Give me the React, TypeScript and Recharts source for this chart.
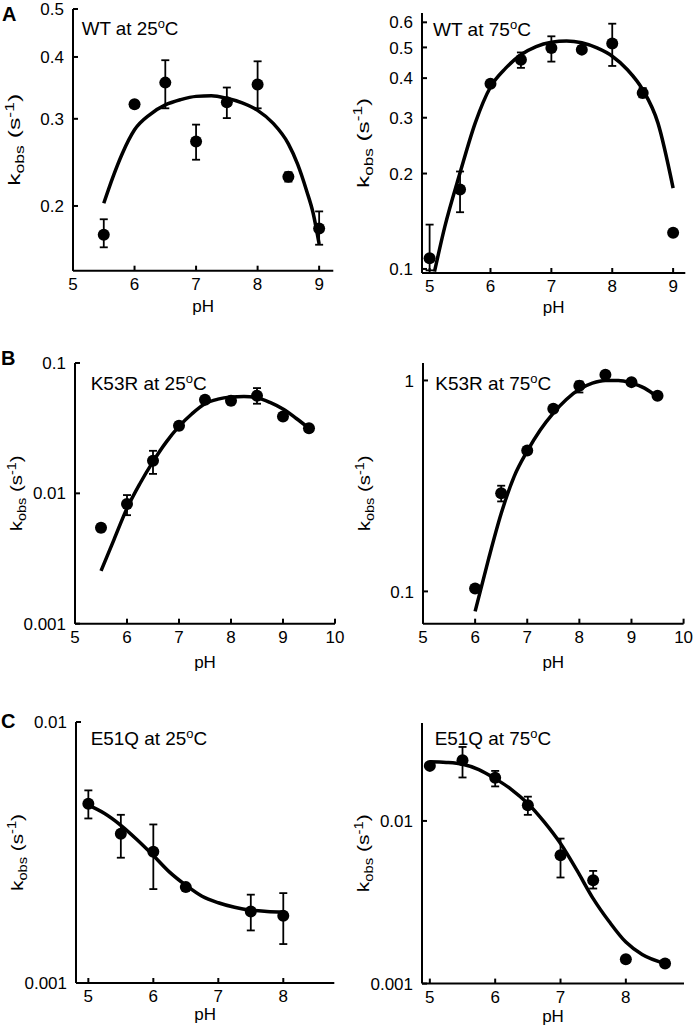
import { ComposedChart, Scatter, Line, XAxis, YAxis, ErrorBar } from "recharts"

const FONT = '"Liberation Sans", Arial, Helvetica, sans-serif'

// ---- A: wild type, 25 °C
const wt25Ph = [5.5, 6, 6.5, 7, 7.5, 8, 8.5, 9]
const wt25K = [0.175, 0.321, 0.355, 0.27, 0.324, 0.352, 0.229, 0.18]
const wt25Lo = [0.165, 0.321, 0.315, 0.248, 0.301, 0.315, 0.224, 0.167]
const wt25Hi = [0.188, 0.321, 0.394, 0.292, 0.347, 0.392, 0.234, 0.195]
const wt25FitPh = [5.5, 5.65, 5.8, 6, 6.25, 6.5, 6.75, 7, 7.25, 7.5, 7.75, 8, 8.25, 8.5, 8.65, 8.8, 8.9, 9]
const wt25FitK = [0.2025, 0.229, 0.255, 0.285, 0.306, 0.32, 0.328, 0.333, 0.334, 0.33, 0.323, 0.312, 0.294, 0.267, 0.243, 0.214, 0.194, 0.1675]

// ---- A: wild type, 75 °C
const wt75Ph = [5, 5.5, 6, 6.5, 7, 7.5, 8, 8.5, 9]
const wt75K = [0.108, 0.178, 0.384, 0.457, 0.498, 0.492, 0.514, 0.359, 0.13]
const wt75Lo = [0.099, 0.151, 0.384, 0.431, 0.451, 0.48, 0.437, 0.348, 0.13]
const wt75Hi = [0.138, 0.203, 0.384, 0.482, 0.542, 0.505, 0.594, 0.372, 0.13]
const wt75FitPh = [5.08, 5.25, 5.5, 5.75, 6, 6.25, 6.5, 6.75, 7, 7.25, 7.5, 7.75, 8, 8.25, 8.5, 8.75, 9]
const wt75FitK = [0.098, 0.136, 0.201, 0.289, 0.375, 0.43, 0.474, 0.503, 0.519, 0.524, 0.517, 0.498, 0.469, 0.425, 0.368, 0.289, 0.18]

// ---- B: K53R, 25 °C
const k25Ph = [5.5, 6, 6.5, 7, 7.5, 8, 8.5, 9, 9.5]
const k25K = [0.00544, 0.00828, 0.0178, 0.033, 0.0522, 0.0513, 0.0561, 0.0389, 0.0316]
const k25Lo = [0.0051, 0.0068, 0.0141, 0.031, 0.0522, 0.048, 0.0487, 0.0389, 0.0298]
const k25Hi = [0.0058, 0.0097, 0.0212, 0.035, 0.0522, 0.055, 0.0642, 0.0389, 0.0334]
const k25FitPh = [5.5, 5.75, 6, 6.25, 6.5, 6.75, 7, 7.25, 7.5, 7.75, 8, 8.25, 8.5, 8.75, 9, 9.25, 9.5]
const k25FitK = [0.00254, 0.00442, 0.00767, 0.0119, 0.0175, 0.0246, 0.0326, 0.0408, 0.0487, 0.0528, 0.0548, 0.0554, 0.0541, 0.0498, 0.0443, 0.0377, 0.0316]

// ---- B: K53R, 75 °C
const k75Ph = [6, 6.5, 7, 7.5, 8, 8.5, 9, 9.5]
const k75K = [0.1033, 0.292, 0.466, 0.734, 0.943, 1.064, 0.982, 0.846]
const k75Lo = [0.1033, 0.267, 0.466, 0.734, 0.877, 1.064, 0.982, 0.846]
const k75Hi = [0.1033, 0.317, 0.466, 0.734, 0.989, 1.064, 0.982, 0.846]
const k75FitPh = [6, 6.25, 6.5, 6.75, 7, 7.25, 7.5, 7.75, 8, 8.25, 8.5, 8.75, 9, 9.25, 9.5]
const k75FitK = [0.0804, 0.14, 0.234, 0.351, 0.462, 0.582, 0.7, 0.813, 0.908, 0.971, 1.0, 1.0, 0.971, 0.92, 0.834]

// ---- C: E51Q, 25 °C
const e25Ph = [5, 5.5, 6, 6.5, 7.5, 8]
const e25K = [0.00486, 0.00373, 0.00318, 0.00233, 0.00188, 0.00181]
const e25Lo = [0.00427, 0.00302, 0.00229, 0.00233, 0.00159, 0.00141]
const e25Hi = [0.00547, 0.00441, 0.00405, 0.00233, 0.00218, 0.00221]
const e25FitPh = [5, 5.25, 5.5, 5.75, 6, 6.25, 6.5, 6.75, 7, 7.25, 7.5, 7.75, 8]
const e25FitK = [0.0048, 0.00446, 0.00402, 0.00354, 0.00308, 0.00266, 0.00237, 0.00215, 0.00203, 0.00195, 0.0019, 0.00188, 0.00187]

// ---- C: E51Q, 75 °C
const e75Ph = [5, 5.5, 6, 6.5, 7, 7.5, 8, 8.6]
const e75K = [0.0218, 0.0236, 0.0184, 0.0125, 0.00615, 0.00432, 0.00141, 0.00133]
const e75Lo = [0.0218, 0.0185, 0.0163, 0.0109, 0.00449, 0.00384, 0.00141, 0.00133]
const e75Hi = [0.0218, 0.0285, 0.0203, 0.0141, 0.00779, 0.00493, 0.00141, 0.00133]
const e75FitPh = [5, 5.25, 5.5, 5.75, 6, 6.25, 6.5, 6.75, 7, 7.25, 7.5, 7.75, 8, 8.25, 8.6]
const e75FitK = [0.0231, 0.0229, 0.0223, 0.0207, 0.0182, 0.0156, 0.0128, 0.00986, 0.00726, 0.00498, 0.00333, 0.00239, 0.0018, 0.00151, 0.00133]

const points = (ph: number[], k: number[], lo: number[], hi: number[]) =>
  ph.map((p, i) => ({ ph: p, k: k[i], err: [k[i] - lo[i], hi[i] - k[i]] }))
const fit = (ph: number[], k: number[]) => ph.map((p, i) => ({ ph: p, k: k[i] }))

const panels = [
  {
    name: "WT", temp: "25", letter: "A", pts: points(wt25Ph, wt25K, wt25Lo, wt25Hi), curve: fit(wt25FitPh, wt25FitK),
    xDomain: [5, 9.23], xTicks: [5, 6, 7, 8, 9], yDomain: [0.148, 0.5], yTicks: [0.2, 0.3, 0.4, 0.5],
  },
  {
    name: "WT", temp: "75", letter: "", pts: points(wt75Ph, wt75K, wt75Lo, wt75Hi), curve: fit(wt75FitPh, wt75FitK),
    xDomain: [4.875, 9.2], xTicks: [5, 6, 7, 8, 9], yDomain: [0.0971, 0.642], yTicks: [0.1, 0.2, 0.3, 0.4, 0.5, 0.6],
  },
  {
    name: "K53R", temp: "25", letter: "B", pts: points(k25Ph, k25K, k25Lo, k25Hi), curve: fit(k25FitPh, k25FitK),
    xDomain: [5, 10], xTicks: [5, 6, 7, 8, 9, 10], yDomain: [0.001, 0.1], yTicks: [0.001, 0.01, 0.1],
  },
  {
    name: "K53R", temp: "75", letter: "", pts: points(k75Ph, k75K, k75Lo, k75Hi), curve: fit(k75FitPh, k75FitK),
    xDomain: [5, 10], xTicks: [5, 6, 7, 8, 9, 10], yDomain: [0.0703, 1.21], yTicks: [0.1, 1],
  },
  {
    name: "E51Q", temp: "25", letter: "C", pts: points(e25Ph, e25K, e25Lo, e25Hi), curve: fit(e25FitPh, e25FitK),
    xDomain: [4.81, 8.785], xTicks: [5, 6, 7, 8], yDomain: [0.001, 0.01], yTicks: [0.001, 0.01],
  },
  {
    name: "E51Q", temp: "75", letter: "", pts: points(e75Ph, e75K, e75Lo, e75Hi), curve: fit(e75FitPh, e75FitK),
    xDomain: [4.88, 8.89], xTicks: [5, 6, 7, 8], yDomain: [0.001, 0.04], yTicks: [0.001, 0.01],
  },
]

// frame boxes on the page [left, top, right, bottom], title offset + width, pH gap, y-label length, letter pos
const layout = [
  { box: [73, 9.3, 333.3, 271], title: [8.7, 26, 96.7], phGap: 41, yLabLen: 92, letterAt: [2, 21] },
  { box: [421.7, 13.3, 685, 273.3], title: [11, 23, 98], phGap: 40, yLabLen: 90, letterAt: null },
  { box: [75, 363.3, 335, 624], title: [15.7, 27, 116], phGap: 44, yLabLen: 76, letterAt: [1, 365] },
  { box: [422.7, 363.3, 683.3, 624], title: [12.3, 27, 116], phGap: 44, yLabLen: 76, letterAt: null },
  { box: [76, 721.7, 334.3, 982.7], title: [14.7, 23, 116.5], phGap: 37, yLabLen: 77, letterAt: [1, 728] },
  { box: [422.3, 722.7, 684.3, 983.3], title: [12.7, 22, 116.5], phGap: 38, yLabLen: 78, letterAt: null },
]

const ML = 80
const MT = 20
const MR = 12
const MB = 52

const BottomTick = (p: any) => (
  <g>
    <line x1={p.x} x2={p.x} y1={p.y} y2={p.y - 5} stroke="#000" strokeWidth={2} />
    <text x={p.x} y={p.y + 19} textAnchor="middle" fontSize={17} fontFamily={FONT} fill="#000">
      {p.payload.value}
    </text>
  </g>
)
const TopTick = (p: any) => <line x1={p.x} x2={p.x} y1={p.y} y2={p.y + 5} stroke="#000" strokeWidth={2} />
const LeftTick = (p: any) => (
  <g>
    <line x1={p.x} x2={p.x + 5} y1={p.y} y2={p.y} stroke="#000" strokeWidth={2} />
    <text x={p.x - 9} y={p.y} dy="0.36em" textAnchor="end" fontSize={17} fontFamily={FONT} fill="#000">
      {p.payload.value}
    </text>
  </g>
)
const RightTick = (p: any) => <line x1={p.x} x2={p.x - 5} y1={p.y} y2={p.y} stroke="#000" strokeWidth={2} />

function Panel({ cfg, lay }: { cfg: any; lay: any }) {
  const [x0, y0, x1, y1] = lay.box
  const fw = x1 - x0
  const fh = y1 - y0
  const left = x0 - ML
  const top = y0 - MT
  const axisStyle = { stroke: "#000", strokeWidth: 2 }
  const labX = ML - 53
  const labY = MT + fh / 2
  return (
    <div style={{ position: "absolute", left, top }}>
      <ComposedChart width={fw + ML + MR} height={fh + MT + MB} margin={{ top: MT, right: MR, bottom: 0, left: 0 }}>
        <XAxis xAxisId="b" dataKey="ph" type="number" domain={cfg.xDomain} ticks={cfg.xTicks} allowDataOverflow
          height={MB} tickSize={0} tickMargin={0} axisLine={axisStyle} tick={BottomTick} interval={0} />
        <XAxis xAxisId="t" orientation="top" dataKey="ph" type="number" domain={cfg.xDomain} ticks={cfg.xTicks}
          allowDataOverflow height={0} tickSize={0} tickMargin={0} axisLine={axisStyle} tick={TopTick} interval={0} />
        <YAxis yAxisId="l" dataKey="k" type="number" scale="log" domain={cfg.yDomain} ticks={cfg.yTicks} allowDataOverflow
          width={ML} tickSize={0} tickMargin={0} axisLine={axisStyle} tick={LeftTick} interval={0} />
        <YAxis yAxisId="r" orientation="right" dataKey="k" type="number" scale="log" domain={cfg.yDomain} ticks={cfg.yTicks}
          allowDataOverflow width={0} tickSize={0} tickMargin={0} axisLine={axisStyle} tick={RightTick} interval={0} />
        <Line xAxisId="b" yAxisId="l" data={cfg.curve} dataKey="k" type="monotone" stroke="#000" strokeWidth={3.5}
          dot={false} activeDot={false} isAnimationActive={false} />
        <Scatter xAxisId="b" yAxisId="l" data={cfg.pts} dataKey="k" isAnimationActive={false}
          shape={(p: any) => <circle cx={p.cx} cy={p.cy} r={6} fill="#000" />}>
          <ErrorBar dataKey="err" direction="y" width={4} stroke="#000" strokeWidth={1.8} isAnimationActive={false} />
        </Scatter>
        <text x={ML + lay.title[0]} y={MT + lay.title[1]} fontSize={17.5} fontFamily={FONT} fill="#000"
          textLength={lay.title[2]} lengthAdjust="spacingAndGlyphs">
          {cfg.name} at {cfg.temp}
          <tspan dy={-6.5} fontSize={12}>o</tspan>
          <tspan dy={6.5}>C</tspan>
        </text>
        <text x={ML + fw / 2} y={MT + fh + lay.phGap} textAnchor="middle" fontSize={17} fontFamily={FONT} fill="#000">
          pH
        </text>
        <text x={labX} y={labY} transform={`rotate(-90, ${labX}, ${labY})`} textAnchor="middle" fontSize={17}
          fontFamily={FONT} fill="#000" textLength={lay.yLabLen} lengthAdjust="spacingAndGlyphs">
          k<tspan dy={4} fontSize={12}>obs</tspan>
          <tspan dy={-4}> (s</tspan>
          <tspan dy={-6.5} fontSize={12}>-1</tspan>
          <tspan dy={6.5}>)</tspan>
        </text>
        {lay.letterAt && (
          <text x={lay.letterAt[0] - left} y={lay.letterAt[1] - top} fontSize={20} fontWeight="bold" fontFamily={FONT} fill="#000">
            {cfg.letter}
          </text>
        )}
      </ComposedChart>
    </div>
  )
}

export default function App() {
  return (
    <div style={{ position: "absolute", left: 0, top: 0, width: 693, height: 1030, background: "#fff", overflow: "hidden" }}>
      {panels.map((cfg, i) => (
        <Panel key={i} cfg={cfg} lay={layout[i]} />
      ))}
    </div>
  )
}
